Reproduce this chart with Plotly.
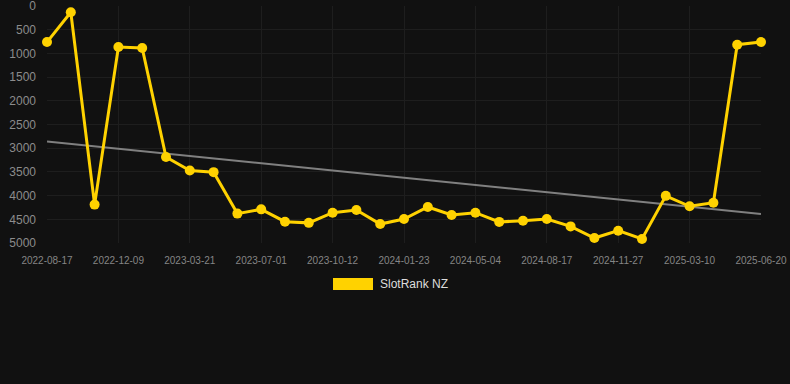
import numpy as np
import plotly.graph_objects as go

dates = [
    "2022-08-17", "2022-09-24", "2022-11-01",
    "2022-12-09", "2023-01-12", "2023-02-15",
    "2023-03-21", "2023-04-24", "2023-05-28",
    "2023-07-01", "2023-08-04", "2023-09-07",
    "2023-10-12", "2023-11-15", "2023-12-19",
    "2024-01-23", "2024-02-26", "2024-03-31",
    "2024-05-04", "2024-06-08", "2024-07-13",
    "2024-08-17", "2024-09-20", "2024-10-24",
    "2024-11-27", "2024-12-31", "2025-02-03",
    "2025-03-10", "2025-04-13", "2025-05-17",
    "2025-06-20",
]
rank_nz = [
    760, 130, 4190,
    865, 885, 3185,
    3470, 3505, 4380,
    4290, 4550, 4575,
    4360, 4305, 4600,
    4495, 4240, 4410,
    4360, 4555, 4530,
    4495, 4650, 4895,
    4740, 4915, 4005,
    4225, 4150, 815,
    760,
]
tick_labels = dates[::3]
y_ticks = [0, 500, 1000, 1500, 2000, 2500, 3000, 3500, 4000, 4500, 5000]

# linear trend line
idx = np.arange(len(rank_nz))
slope, intercept = np.polyfit(idx, rank_nz, 1)
trend = slope * idx + intercept

fig = go.Figure()
fig.add_trace(go.Scatter(
    x=dates, y=trend, mode="lines",
    line=dict(color="#808080", width=2),
    hoverinfo="skip", showlegend=False, cliponaxis=False,
))
fig.add_trace(go.Scatter(
    x=dates, y=rank_nz, mode="lines+markers", name="SlotRank NZ",
    line=dict(color="#FFD200", width=3),
    marker=dict(color="#FFD200", size=10),
    showlegend=False, cliponaxis=False,
))

fig.update_layout(
    width=790, height=384,
    paper_bgcolor="#111111", plot_bgcolor="#111111",
    margin=dict(l=47, r=29, t=6, b=141, autoexpand=False),
    font=dict(family="Liberation Sans, Arial, sans-serif", color="#8c8c8c"),
    xaxis=dict(
        type="category", range=[0, len(dates) - 1],
        tickmode="array", tickvals=tick_labels, ticktext=tick_labels,
        tickangle=0, tickfont=dict(size=10, color="#858585"),
        showgrid=True, gridcolor="#1e1e1e", gridwidth=1,
        zeroline=False, showline=False, ticks="", ticklabelstandoff=10,
        automargin=False,
    ),
    yaxis=dict(
        range=[5000, -1], tickvals=y_ticks,
        tickfont=dict(size=12, color="#8c8c8c"),
        showgrid=True, gridcolor="#1e1e1e", gridwidth=1,
        zeroline=False, showline=False, ticks="", ticklabelstandoff=10,
        ticklabeloverflow="allow", automargin=False,
    ),
    shapes=[dict(
        type="rect", xref="paper", yref="paper",
        x0=(333 - 47) / 714, x1=(373 - 47) / 714,
        y0=(243 - 290) / 237, y1=(243 - 278) / 237,
        fillcolor="#FFD200", line=dict(width=0),
    )],
    annotations=[dict(
        text="SlotRank NZ", xref="paper", yref="paper",
        x=(378 - 47) / 714, y=(243 - 284) / 237,
        xanchor="left", yanchor="middle", showarrow=False,
        font=dict(size=12, color="#dddddd"),
    )],
)

fig.write_html("out.html", config={"displayModeBar": False})
with open("out.html", encoding="utf-8") as f:
    html = f.read()
html = html.replace("<head>", "<head><style>html,body{margin:0;padding:0;background:#111111;overflow:hidden}</style>", 1)
with open("out.html", "w", encoding="utf-8") as f:
    f.write(html)
